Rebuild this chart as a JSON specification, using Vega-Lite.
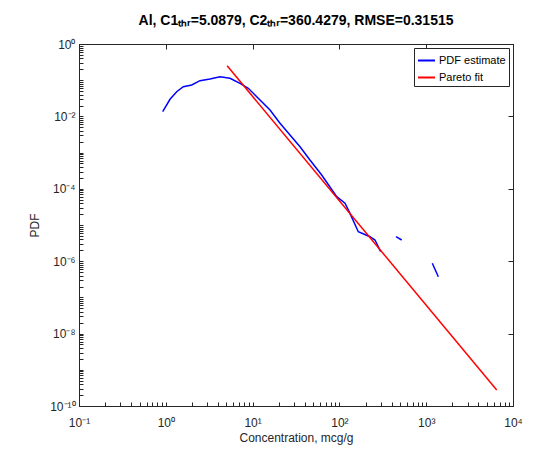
{
  "$schema": "https://vega.github.io/schema/vega-lite/v6.json",
  "width": 434,
  "height": 362,
  "autosize": {"type": "none"},
  "padding": {"left": 79, "top": 44, "right": 44, "bottom": 44},
  "background": "white",
  "config": {
    "font": "Liberation Sans",
    "view": {"stroke": "#262626", "strokeWidth": 1},
    "axis": {
      "domainColor": "#262626",
      "tickColor": "#262626",
      "labelColor": "#262626",
      "titleColor": "#262626",
      "labelFont": "Liberation Sans",
      "titleFont": "Liberation Sans",
      "labelFontSize": 12,
      "titleFontSize": 12,
      "titleFontWeight": "normal",
      "grid": false,
      "ticks": true,
      "tickWidth": 1
    }
  },
  "title": {
    "text": "Al, C1ₜₕᵣ=5.0879, C2ₜₕᵣ=360.4279, RMSE=0.31515",
    "fontSize": 14,
    "fontWeight": "bold",
    "font": "Liberation Sans",
    "color": "#000000",
    "offset": 10
  },
  "data": {
    "values": [
      {"series": "PDF estimate", "seg": "a", "x": 0.921, "y": 0.0135},
      {"series": "PDF estimate", "seg": "a", "x": 1.118, "y": 0.0297},
      {"series": "PDF estimate", "seg": "a", "x": 1.335, "y": 0.0481},
      {"series": "PDF estimate", "seg": "a", "x": 1.591, "y": 0.0661},
      {"series": "PDF estimate", "seg": "a", "x": 1.988, "y": 0.0737},
      {"series": "PDF estimate", "seg": "a", "x": 2.477, "y": 0.0969},
      {"series": "PDF estimate", "seg": "a", "x": 3.228, "y": 0.108},
      {"series": "PDF estimate", "seg": "a", "x": 4.21, "y": 0.125},
      {"series": "PDF estimate", "seg": "a", "x": 5.49, "y": 0.1129},
      {"series": "PDF estimate", "seg": "a", "x": 7.16, "y": 0.0821},
      {"series": "PDF estimate", "seg": "a", "x": 8.92, "y": 0.0597},
      {"series": "PDF estimate", "seg": "a", "x": 12.17, "y": 0.0284},
      {"series": "PDF estimate", "seg": "a", "x": 15.87, "y": 0.01502},
      {"series": "PDF estimate", "seg": "a", "x": 20.69, "y": 0.00645},
      {"series": "PDF estimate", "seg": "a", "x": 26.97, "y": 0.00306},
      {"series": "PDF estimate", "seg": "a", "x": 35.2, "y": 0.001455},
      {"series": "PDF estimate", "seg": "a", "x": 45.8, "y": 0.000625},
      {"series": "PDF estimate", "seg": "a", "x": 62.5, "y": 0.000241},
      {"series": "PDF estimate", "seg": "a", "x": 93.1, "y": 0.0000605},
      {"series": "PDF estimate", "seg": "a", "x": 116, "y": 0.0000398},
      {"series": "PDF estimate", "seg": "a", "x": 132.4, "y": 0.000021},
      {"series": "PDF estimate", "seg": "a", "x": 165.1, "y": 0.00000653},
      {"series": "PDF estimate", "seg": "a", "x": 225.2, "y": 0.00000475},
      {"series": "PDF estimate", "seg": "a", "x": 257, "y": 0.00000385},
      {"series": "PDF estimate", "seg": "a", "x": 299, "y": 0.00000183},
      {"series": "PDF estimate", "seg": "b", "x": 449, "y": 0.00000475},
      {"series": "PDF estimate", "seg": "b", "x": 522, "y": 0.00000385},
      {"series": "PDF estimate", "seg": "c", "x": 1176, "y": 0.000000875},
      {"series": "PDF estimate", "seg": "c", "x": 1379, "y": 0.000000373},
      {"series": "Pareto fit", "seg": "d", "x": 5.0879, "y": 0.25},
      {"series": "Pareto fit", "seg": "d", "x": 6490, "y": 2.76e-10}
    ]
  },
  "layer": [
    {
      "mark": {"type": "line", "strokeWidth": 1.5, "clip": true},
      "encoding": {
        "x": {
          "field": "x", "type": "quantitative",
          "scale": {"type": "log", "domain": [0.1, 10000], "nice": false},
          "axis": {
            "orient": "bottom",
            "title": "Concentration, mcg/g",
            "titlePadding": 4,
            "values": [0.1,0.2,0.3,0.4,0.5,0.6,0.7,0.8,0.9,1,2,3,4,5,6,7,8,9,10,20,30,40,50,60,70,80,90,100,200,300,400,500,600,700,800,900,1000,2000,3000,4000,5000,6000,7000,8000,9000,10000],
            "labelExpr": "abs(log(datum.value)/LN10 - round(log(datum.value)/LN10)) < 0.000001 ? '10' + (datum.value < 0.99 ? '⁻' : '') + substring('⁰¹²³⁴⁵⁶⁷⁸⁹', abs(round(log(datum.value)/LN10)), abs(round(log(datum.value)/LN10)) + 1) : ''",
            "tickSize": -4,
            "labelPadding": 15,
            "labelFlush": false,
            "labelOverlap": false
          }
        },
        "y": {
          "field": "y", "type": "quantitative",
          "scale": {"type": "log", "domain": [1e-10, 1], "nice": false},
          "axis": {
            "orient": "left",
            "title": "PDF",
            "titlePadding": 8,
            "values": [1e-10,2e-10,3e-10,4e-10,5e-10,6e-10,7e-10,8e-10,9e-10,1e-9,2e-9,3e-9,4e-9,5e-9,6e-9,7e-9,8e-9,9e-9,1e-8,2e-8,3e-8,4e-8,5e-8,6e-8,7e-8,8e-8,9e-8,1e-7,2e-7,3e-7,4e-7,5e-7,6e-7,7e-7,8e-7,9e-7,1e-6,2e-6,3e-6,4e-6,5e-6,6e-6,7e-6,8e-6,9e-6,1e-5,2e-5,3e-5,4e-5,5e-5,6e-5,7e-5,8e-5,9e-5,1e-4,2e-4,3e-4,4e-4,5e-4,6e-4,7e-4,8e-4,9e-4,1e-3,2e-3,3e-3,4e-3,5e-3,6e-3,7e-3,8e-3,9e-3,1e-2,2e-2,3e-2,4e-2,5e-2,6e-2,7e-2,8e-2,9e-2,0.1,0.2,0.3,0.4,0.5,0.6,0.7,0.8,0.9,1],
            "labelExpr": "(abs(log(datum.value)/LN10 - round(log(datum.value)/LN10)) < 0.000001 && round(log(datum.value)/LN10) % 2 == 0) ? '10' + (datum.value < 0.99 ? '⁻' : '') + (abs(round(log(datum.value)/LN10)) == 10 ? '¹⁰' : substring('⁰¹²³⁴⁵⁶⁷⁸⁹', abs(round(log(datum.value)/LN10)), abs(round(log(datum.value)/LN10)) + 1)) : ''",
            "tickSize": -4,
            "labelPadding": 8,
            "labelFlush": false,
            "labelOverlap": false
          }
        },
        "detail": {"field": "seg"},
        "color": {
          "field": "series", "type": "nominal",
          "scale": {"domain": ["PDF estimate", "Pareto fit"], "range": ["#0000ff", "#ff0000"]},
          "legend": {
            "title": null,
            "orient": "top-right",
            "offset": 4,
            "fillColor": "white",
            "strokeColor": "#262626",
            "padding": 3,
            "symbolType": "stroke",
            "symbolSize": 289,
            "symbolStrokeWidth": 2,
            "labelFont": "Liberation Sans",
            "labelFontSize": 11,
            "labelColor": "#000000",
            "labelOffset": 3,
            "rowPadding": 2
          }
        }
      }
    },
    {
      "mark": {"type": "point", "opacity": 0},
      "encoding": {
        "x": {
          "field": "x", "type": "quantitative",
          "scale": {"type": "log", "domain": [0.1, 10000], "nice": false},
          "axis": {
            "orient": "top",
            "title": null,
            "labels": false,
            "values": [0.1, 1, 10, 100, 1000, 10000],
            "tickSize": -5,
            "tickColor": "#262626",
            "tickWidth": 1,
            "domainColor": "#262626"
          }
        },
        "y": {
          "field": "y", "type": "quantitative",
          "scale": {"type": "log", "domain": [1e-10, 1], "nice": false},
          "axis": {
            "orient": "right",
            "title": null,
            "labels": false,
            "values": [1e-10, 1e-8, 1e-6, 1e-4, 1e-2, 1],
            "tickSize": -5,
            "tickColor": "#262626",
            "tickWidth": 1
          }
        }
      }
    }
  ],
  "resolve": {"axis": {"x": "independent", "y": "independent"}}
}
